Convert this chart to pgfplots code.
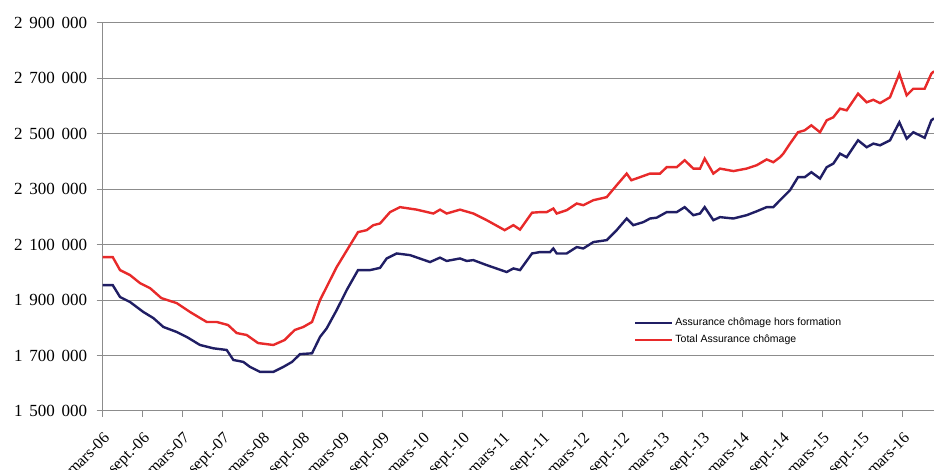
\documentclass[border=0pt]{standalone}
\usepackage{fontspec}
\setmainfont{Liberation Serif}
\newfontfamily\legfont{Liberation Sans}
\usepackage{pgfplots}
\pgfplotsset{compat=1.18}

\definecolor{bleu}{RGB}{32,30,100}
\definecolor{rouge}{RGB}{232,42,42}
\definecolor{grille}{RGB}{140,140,140}

\begin{document}
\begin{tikzpicture}
\begin{axis}[
  scale only axis,
  width=831.3pt, height=388.3pt,
  xmin=0, xmax=124.7,
  ymin=1500000, ymax=2900000,
  axis x line*=bottom, axis y line*=left,
  axis line style={grille, line width=1pt},
  ytick={1500000,1700000,1900000,2100000,2300000,2500000,2700000,2900000},
  xtick={0,6,...,120},
  xticklabels={mars-06,sept.-06,mars-07,sept.-07,mars-08,sept.-08,mars-09,sept.-09,mars-10,sept.-10,mars-11,sept.-11,mars-12,sept.-12,mars-13,sept.-13,mars-14,sept.-14,mars-15,sept.-15,mars-16},
  ymajorgrids,
  grid style={grille, line width=1pt},
  tick align=outside,
  major tick length=6pt,
  tick style={grille, line width=1pt},
  scaled y ticks=false,
  yticklabel style={font=\fontsize{17}{17}\selectfont, xshift=-6pt,
    /pgf/number format/fixed, /pgf/number format/1000 sep={\hspace{0.4em}},
    /pgf/number format/assume math mode=true},
  xticklabel style={font=\fontsize{16}{16}\selectfont, rotate=45, anchor=north east, inner sep=0pt},
  xticklabel shift=14pt,
  legend style={at={(0.637,0.25)}, anchor=north west, draw=none, fill=white,
    font=\legfont\fontsize{10.5}{12}\selectfont, inner sep=2pt, row sep=4pt},
  legend cell align=left,
  legend image code/.code={\draw[#1, line width=2pt] (0pt,0pt) -- (37pt,0pt);},
]
\addplot[color=bleu, line width=2.4pt] coordinates {
(0,1954000)(1.5,1954000)(2.6,1911000)(4.1,1893000)(6.1,1857000)(7.6,1835000)
(9.1,1803000)(11.1,1785000)(12.6,1767000)(14.6,1738000)(16.6,1726000)(18.6,1720000)
(19.6,1684000)(21.1,1677000)(22.1,1659000)(23.6,1641000)(25.6,1641000)(27.1,1659000)
(28.4,1677000)(29.6,1705000)(31.4,1708000)(32.6,1767000)(33.6,1798000)(35.1,1864000)
(36.6,1936000)(38.3,2008000)(40.1,2008000)(41.6,2016000)(42.6,2050000)(44.1,2068000)
(46.1,2062000)(49.1,2037000)(50.6,2053000)(51.6,2041000)(53.6,2050000)(54.6,2041000)
(55.6,2044000)(57.6,2026000)(60.6,2001000)(61.6,2014000)(62.6,2008000)(64.4,2068000)
(65.6,2073000)(67.1,2073000)(67.6,2086000)(68.1,2068000)(69.6,2068000)(71.1,2091000)
(72.1,2086000)(73.6,2109000)(75.6,2116000)(77.1,2152000)(78.6,2194000)(79.6,2170000)
(81.1,2181000)(82.1,2194000)(83.1,2197000)(84.6,2217000)(86.1,2217000)(87.3,2235000)
(88.6,2206000)(89.6,2212000)(90.3,2235000)(91.6,2188000)(92.6,2199000)(94.6,2194000)
(96.6,2206000)(98.1,2220000)(99.6,2235000)(100.6,2235000)(101.6,2260000)(103.1,2296000)
(104.3,2343000)(105.3,2343000)(106.3,2361000)(107.6,2338000)(108.6,2379000)(109.6,2392000)
(110.6,2428000)(111.6,2415000)(113.3,2476000)(114.6,2451000)(115.6,2464000)(116.6,2458000)
(118.1,2476000)(119.5,2541000)(120.6,2482000)(121.6,2505000)(123.3,2485000)(124.3,2548000)
(124.7,2555000)
};
\addlegendentry{Assurance chômage hors formation}
\addplot[color=rouge, line width=2.4pt] coordinates {
(0,2055000)(1.5,2055000)(2.6,2008000)(4.1,1990000)(5.6,1961000)(7.1,1943000)
(8.8,1907000)(11.1,1889000)(13.1,1857000)(15.6,1821000)(17.1,1821000)(18.8,1810000)
(20.1,1781000)(21.6,1774000)(23.3,1745000)(25.6,1738000)(27.3,1756000)(28.8,1792000)
(30.1,1803000)(31.4,1821000)(32.6,1900000)(35.1,2019000)(37.1,2098000)(38.3,2145000)
(39.6,2152000)(40.6,2170000)(41.6,2176000)(43.1,2217000)(44.6,2235000)(47.1,2226000)
(49.6,2212000)(50.6,2226000)(51.6,2212000)(53.6,2226000)(55.6,2212000)(57.6,2188000)
(60.3,2152000)(61.6,2170000)(62.6,2154000)(64.4,2215000)(65.6,2217000)(66.6,2217000)
(67.6,2230000)(68.1,2212000)(69.6,2224000)(71.1,2248000)(72.1,2242000)(73.6,2260000)
(75.6,2271000)(77.1,2314000)(78.6,2356000)(79.3,2332000)(80.6,2343000)(82.1,2356000)
(83.6,2356000)(84.6,2379000)(86.1,2379000)(87.3,2404000)(88.6,2374000)(89.6,2374000)
(90.3,2410000)(91.6,2356000)(92.6,2374000)(94.6,2365000)(96.6,2374000)(98.1,2386000)
(99.6,2407000)(100.6,2397000)(101.6,2415000)(102.1,2428000)(103.1,2464000)(104.3,2505000)
(105.3,2512000)(106.3,2530000)(107.6,2505000)(108.6,2548000)(109.6,2559000)(110.6,2590000)
(111.6,2584000)(113.3,2644000)(114.6,2613000)(115.6,2622000)(116.6,2610000)(118.1,2631000)
(119.5,2716000)(120.6,2638000)(121.6,2662000)(123.3,2662000)(124.3,2716000)(124.7,2725000)
};
\addlegendentry{Total Assurance chômage}
\end{axis}
\pgfresetboundingbox
\path[use as bounding box] ([xshift=-102.7pt,yshift=-59pt]current axis.south west)
  rectangle ([yshift=22.7pt]current axis.north east);
\end{tikzpicture}
\end{document}
